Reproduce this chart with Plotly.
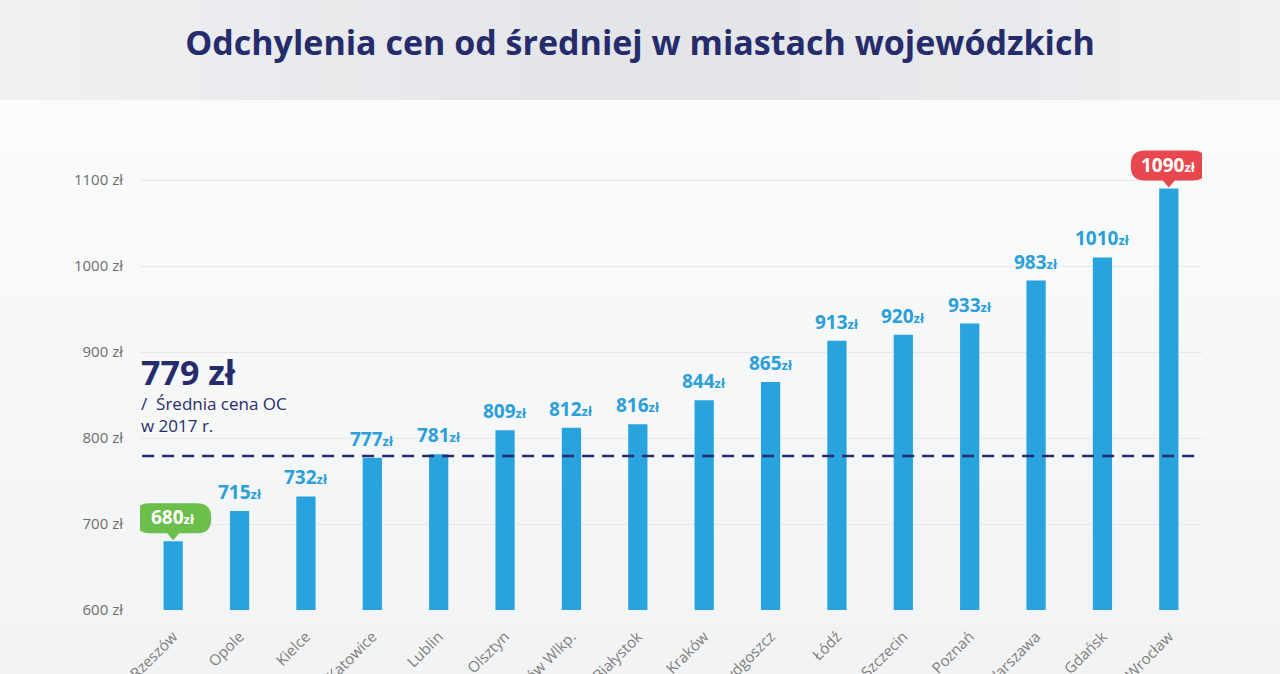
import plotly.graph_objects as go

# ---------------- data ----------------
cities = ["Rzeszów", "Opole", "Kielce", "Katowice", "Lublin", "Olsztyn", "Gorzów Wlkp.",
          "Białystok", "Kraków", "Bydgoszcz", "Łódź", "Szczecin", "Poznań", "Warszawa",
          "Gdańsk", "Wrocław"]
prices = [680, 715, 732, 777, 781, 809, 812, 816, 844, 865, 913, 920, 933, 983, 1010, 1090]
average = 779
y_ticks = [600, 700, 800, 900, 1000, 1100]
y_tick_labels = [f"{v} zł" for v in y_ticks]
title_text = "Odchylenia cen od średniej w miastach wojewódzkich"

# ---------------- style ----------------
W, H = 1280, 674
ML, MR, MT, MB = 140, 78, 137, 64
NAVY = "#262c6b"
BLUE = "#29a3dd"
GREEN = "#6cbf4a"
RED = "#e8474d"
BG = "#f8f9fa"
FONT = "Open Sans"

pw, ph = W - ML - MR, H - MT - MB


def px_x(px):
    return (px - ML) / pw


def px_y(py):
    return (H - MB - py) / ph


def mix(c1, c2, t):
    a = [int(c1[i:i + 2], 16) for i in (1, 3, 5)]
    b = [int(c2[i:i + 2], 16) for i in (1, 3, 5)]
    return "#" + "".join(f"{round(a[k] + (b[k] - a[k]) * t):02x}" for k in range(3))


idx = list(range(len(cities)))
fig = go.Figure()

fig.add_trace(go.Bar(x=idx, y=prices, width=0.29, marker=dict(color=BLUE, line=dict(width=0)),
                     hoverinfo="skip", showlegend=False))

shapes = []
# background: lower area vertical gradient (+ matching cover strips behind the caption)
COVER_X1, COVER_Y0, COVER_Y1 = 370, 346, 446
n = 12
for i in range(n):
    y0 = 100 + (H - 100) * i / n
    y1 = 100 + (H - 100) * (i + 1) / n + 1
    col = mix("#fafbfb", "#f2f3f4", i / (n - 1))
    shapes.append(dict(type="rect", xref="paper", yref="paper", x0=px_x(0), x1=px_x(W),
                       y0=px_y(y1), y1=px_y(y0), fillcolor=col, line=dict(width=0), layer="below"))
    c0, c1 = max(y0, COVER_Y0), min(y1, COVER_Y1)
    if c0 < c1:
        shapes.append(dict(type="rect", xref="paper", yref="paper", x0=0, x1=px_x(COVER_X1),
                           y0=px_y(c1), y1=px_y(c0), fillcolor=col, line=dict(width=0), layer="between"))
# title band horizontal gradient
n = 32
for i in range(n):
    t = (i + 0.5) / n
    d = abs(t - 0.52) * 2
    col = mix("#e3e5e8", "#f0f1f3", min(1, d ** 1.4))
    shapes.append(dict(type="rect", xref="paper", yref="paper", x0=px_x(W * i / n), x1=px_x(W * (i + 1) / n + 1),
                       y0=px_y(100), y1=px_y(0), fillcolor=col, line=dict(width=0), layer="below"))
# average dashed line
shapes.append(dict(type="line", xref="x domain", yref="y", x0=0.002, x1=0.998, y0=average, y1=average,
                   line=dict(color=NAVY, width=2.5, dash="12px,8px"), layer="above"))

# bubble path (pixels relative to bar top, y up)
hw, yb, yt, r = 38, 8, 38, 14
bubble = (f"M -6,{yb} L 0,1 L 6,{yb} L {hw - r},{yb} Q {hw},{yb} {hw},{yb + r} "
          f"L {hw},{yt - r} Q {hw},{yt} {hw - r},{yt} L {-hw + r},{yt} Q {-hw},{yt} {-hw},{yt - r} "
          f"L {-hw},{yb + r} Q {-hw},{yb} {-hw + r},{yb} Z")

i_min = prices.index(min(prices))
i_max = prices.index(max(prices))
for i, col in ((i_min, GREEN), (i_max, RED)):
    shapes.append(dict(type="path", xref="x", yref="y", xsizemode="pixel", ysizemode="pixel",
                       xanchor=idx[i], yanchor=prices[i], path=bubble, fillcolor=col,
                       line=dict(width=0), layer="above"))

annotations = []
for i, v in enumerate(prices):
    txt = f"<b>{v}</b><b><span style='font-size:13px'>zł</span></b>"
    if i in (i_min, i_max):
        annotations.append(dict(x=idx[i], y=v, xref="x", yref="y", text=txt, showarrow=False,
                                yanchor="middle", yshift=(yb + yt) / 2 + 1,
                                font=dict(family=FONT, size=19, color="white")))
    else:
        annotations.append(dict(x=idx[i], y=v, xref="x", yref="y", text=txt, showarrow=False,
                                yanchor="bottom", yshift=4,
                                font=dict(family=FONT, size=19, color="#2a9fd9")))

annotations.append(dict(xref="paper", yref="paper", x=px_x(139), y=px_y(372), xanchor="left", yanchor="middle",
                        text=f"<b>{average} zł</b>", showarrow=False,
                        font=dict(family=FONT, size=34, color=NAVY)))
annotations.append(dict(xref="paper", yref="paper", x=px_x(139), y=px_y(414), xanchor="left", yanchor="middle",
                        text="/  Średnia cena OC<br>w 2017 r.", showarrow=False, align="left",
                        font=dict(family=FONT, size=17, color=NAVY)))

fig.update_layout(
    width=W, height=H,
    margin=dict(l=ML, r=MR, t=MT, b=MB, autoexpand=False),
    paper_bgcolor=BG, plot_bgcolor="rgba(0,0,0,0)",
    title=dict(text=f"<b>{title_text}</b>", x=0.5, xref="container", xanchor="center",
               y=1 - 43 / H, yref="container", yanchor="middle",
               font=dict(family=FONT, size=34, color=NAVY)),
    shapes=shapes, annotations=annotations,
    bargap=0.7,
    xaxis=dict(range=[-0.5, len(cities) - 0.5], tickvals=idx, ticktext=cities, tickangle=-45,
               showgrid=False, zeroline=False, showline=False, ticks="", automargin=False,
               ticklabelstandoff=14, tickfont=dict(family=FONT, size=15, color="#7d7d7d")),
    yaxis=dict(range=[600, 1150], tickvals=y_ticks, ticktext=y_tick_labels, showgrid=True,
               gridcolor="#e6e7e9", gridwidth=1, zeroline=False, showline=False, ticks="",
               automargin=False, ticklabelstandoff=16, tickfont=dict(family=FONT, size=15, color="#6e6e6e")),
    font=dict(family=FONT),
)

fig.write_html("out.html", config={"displayModeBar": False},
               post_script="document.body.style.margin='0';document.body.style.overflow='hidden';")
